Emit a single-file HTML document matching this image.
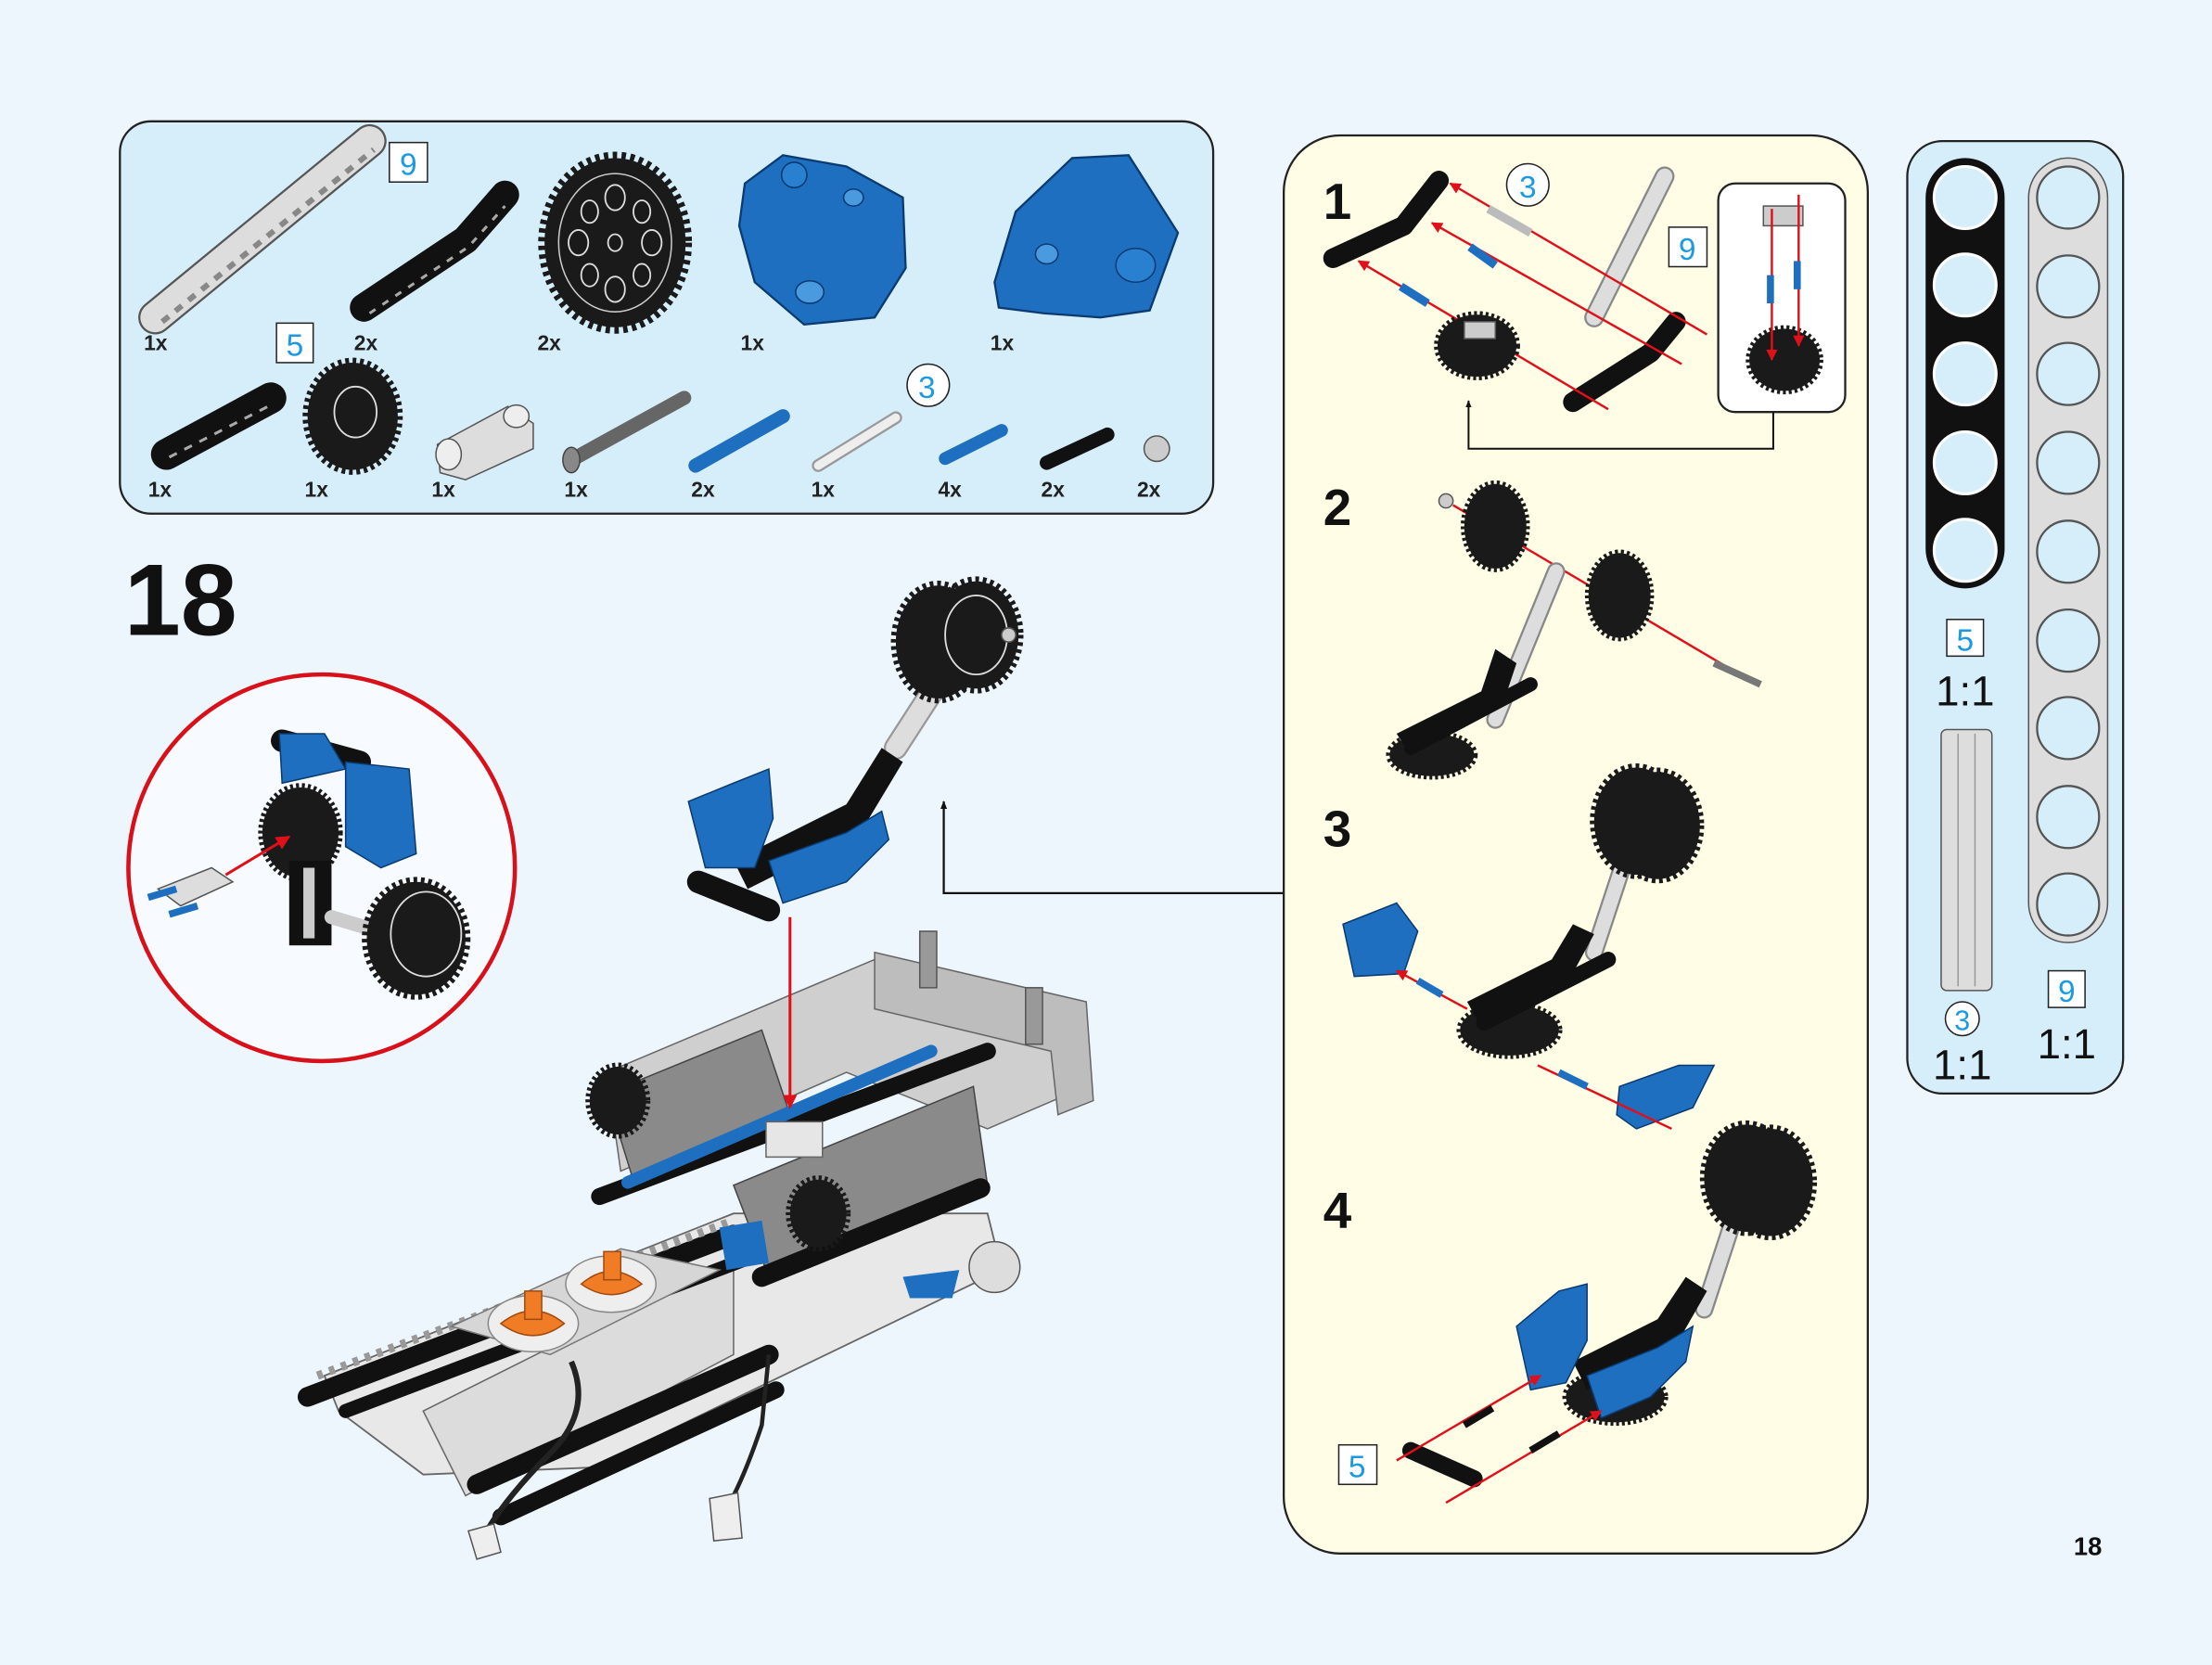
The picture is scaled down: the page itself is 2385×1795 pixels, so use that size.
<!DOCTYPE html>
<html><head><meta charset="utf-8">
<style>
html,body{margin:0;padding:0;background:#eef6fd;}
svg{display:block;}
text{font-family:"Liberation Sans",Arial,sans-serif;}
</style></head>
<body>
<svg width="2385" height="1795" viewBox="0 0 1568 1180" preserveAspectRatio="none" xmlns="http://www.w3.org/2000/svg">
<defs>
<marker id="ra" viewBox="0 0 10 10" refX="9" refY="5" markerWidth="5" markerHeight="5" orient="auto"><path d="M0,0 L10,5 L0,10 z" fill="#e0101a"/></marker>
<marker id="ka" viewBox="0 0 10 10" refX="9" refY="5" markerWidth="4" markerHeight="6" orient="auto"><path d="M0,1 L10,5 L0,9 z" fill="#111"/></marker>
</defs>
<rect width="1568" height="1180" fill="#eef6fd"/>

<!-- PARTS BOX -->
<rect x="85" y="86" width="775" height="278" rx="22" fill="#d6eefa" stroke="#222" stroke-width="1.5"/>
<!-- grey beam 9 -->
<line x1="110" y1="225" x2="262" y2="100" stroke="#555" stroke-width="24" stroke-linecap="round"/>
<line x1="110" y1="225" x2="262" y2="100" stroke="#ddd" stroke-width="21" stroke-linecap="round"/>
<line x1="115" y1="228" x2="265" y2="106" stroke="#888" stroke-width="4" stroke-dasharray="6 6"/>
<rect x="276" y="101" width="27" height="28" fill="#fff" stroke="#222"/><text x="289.5" y="124" font-size="22" fill="#1a9ae0" text-anchor="middle">9</text>
<!-- bent black beam -->
<path d="M258,218 L330,170 L358,138" fill="none" stroke="#111" stroke-width="20" stroke-linecap="round" stroke-linejoin="round"/>
<path d="M262,222 L332,175 L358,146" fill="none" stroke="#aaa" stroke-width="2" stroke-dasharray="5 6"/>
<!-- big gear -->
<ellipse cx="436" cy="172" rx="50" ry="60" fill="#1a1a1a" stroke="#1a1a1a" stroke-width="9" stroke-dasharray="3 3"/>
<ellipse cx="436" cy="172" rx="40" ry="49" fill="none" stroke="#ccc" stroke-width="1"/>
<g fill="none" stroke="#ddd" stroke-width="1.2"><ellipse cx="436" cy="140" rx="7" ry="9"/><ellipse cx="436" cy="205" rx="7" ry="9"/><ellipse cx="410" cy="172" rx="7" ry="9"/><ellipse cx="462" cy="172" rx="7" ry="9"/><ellipse cx="418" cy="150" rx="6" ry="8"/><ellipse cx="455" cy="150" rx="6" ry="8"/><ellipse cx="418" cy="195" rx="6" ry="8"/><ellipse cx="455" cy="195" rx="6" ry="8"/><ellipse cx="436" cy="172" rx="5" ry="6"/></g>
<!-- blue parts -->
<path d="M528,130 L555,110 L600,118 L640,140 L642,190 L620,225 L570,230 L535,200 L524,160 z" fill="#1f6fc0" stroke="#0a3a70" stroke-width="1.5"/>
<circle cx="563" cy="124" r="9" fill="#2a80d0" stroke="#0a3a70"/><ellipse cx="574" cy="207" rx="10" ry="8" fill="#4a9ae0" stroke="#0a3a70"/><ellipse cx="605" cy="140" rx="7" ry="6" fill="#4a9ae0" stroke="#0a3a70"/>
<path d="M705,200 L720,150 L760,112 L800,110 L835,165 L815,220 L780,225 L740,222 L708,218 z" fill="#1f6fc0" stroke="#0a3a70" stroke-width="1.5"/>
<ellipse cx="805" cy="188" rx="14" ry="12" fill="#2a80d0" stroke="#0a3a70"/><ellipse cx="742" cy="180" rx="8" ry="7" fill="#4a9ae0" stroke="#0a3a70"/>
<g font-size="15" font-weight="bold" fill="#222">
<text x="102" y="248">1x</text><text x="251" y="248">2x</text><text x="381" y="248">2x</text><text x="525" y="248">1x</text><text x="702" y="248">1x</text>
<text x="105" y="352">1x</text><text x="216" y="352">1x</text><text x="306" y="352">1x</text><text x="400" y="352">1x</text><text x="490" y="352">2x</text><text x="575" y="352">1x</text><text x="665" y="352">4x</text><text x="738" y="352">2x</text><text x="806" y="352">2x</text>
</g>
<rect x="196" y="229" width="26" height="28" fill="#fff" stroke="#222"/><text x="209" y="252" font-size="22" fill="#1a9ae0" text-anchor="middle">5</text>
<!-- row 2 parts -->
<line x1="118" y1="322" x2="192" y2="282" stroke="#111" stroke-width="22" stroke-linecap="round"/>
<line x1="120" y1="324" x2="194" y2="286" stroke="#aaa" stroke-width="2" stroke-dasharray="6 6"/>
<ellipse cx="250" cy="295" rx="32" ry="38" fill="#1a1a1a" stroke="#1a1a1a" stroke-width="7" stroke-dasharray="2.5 2.5"/>
<ellipse cx="252" cy="292" rx="15" ry="18" fill="none" stroke="#ddd" stroke-width="1.2"/>
<path d="M310,315 L360,288 L378,300 L378,318 L330,340 L312,335 z" fill="#ddd" stroke="#555"/>
<ellipse cx="318" cy="322" rx="9" ry="11" fill="#eee" stroke="#555"/><ellipse cx="366" cy="295" rx="9" ry="8" fill="#eee" stroke="#555"/>
<line x1="405" y1="326" x2="485" y2="282" stroke="#666" stroke-width="10" stroke-linecap="round"/><ellipse cx="405" cy="326" rx="6" ry="9" fill="#888" stroke="#444"/>
<line x1="493" y1="330" x2="555" y2="295" stroke="#1f6fc0" stroke-width="10" stroke-linecap="round"/>
<rect x="643" y="258" width="30" height="30" rx="15" fill="#fff" stroke="#222"/><text x="657" y="282" font-size="22" fill="#1a9ae0" text-anchor="middle">3</text>
<line x1="580" y1="330" x2="635" y2="296" stroke="#999" stroke-width="9" stroke-linecap="round"/><line x1="580" y1="330" x2="635" y2="296" stroke="#eee" stroke-width="6" stroke-linecap="round"/>
<line x1="670" y1="325" x2="710" y2="305" stroke="#1f6fc0" stroke-width="9" stroke-linecap="round"/>
<line x1="742" y1="328" x2="785" y2="308" stroke="#111" stroke-width="10" stroke-linecap="round"/>
<circle cx="820" cy="318" r="9" fill="#ccc" stroke="#555"/>

<!-- 18 title -->
<text x="88" y="450" font-size="72" font-weight="bold" fill="#111">18</text>

<!-- red circle callout -->
<circle cx="228" cy="615" r="137" fill="#f7fbff" stroke="#d8101a" stroke-width="3"/>
<line x1="200" y1="525" x2="255" y2="540" stroke="#111" stroke-width="16" stroke-linecap="round"/>
<path d="M245,540 L290,545 L295,605 L270,615 L245,600 z" fill="#1f6fc0" stroke="#0a3a70"/>
<path d="M198,520 L230,520 L245,545 L200,555 z" fill="#1f6fc0" stroke="#0a3a70"/>
<ellipse cx="213" cy="590" rx="27" ry="32" fill="#1a1a1a" stroke="#1a1a1a" stroke-width="6" stroke-dasharray="2 2"/>
<rect x="205" y="610" width="30" height="60" fill="#111"/><rect x="215" y="615" width="8" height="50" fill="#ccc"/>
<line x1="235" y1="650" x2="285" y2="665" stroke="#ccc" stroke-width="10" stroke-linecap="round"/>
<ellipse cx="295" cy="665" rx="35" ry="40" fill="#1a1a1a" stroke="#1a1a1a" stroke-width="7" stroke-dasharray="2.5 2.5"/>
<ellipse cx="302" cy="662" rx="25" ry="30" fill="none" stroke="#ddd" stroke-width="1.2"/>
<path d="M112,630 L150,615 L165,625 L128,642 z" fill="#ddd" stroke="#555"/>
<line x1="105" y1="636" x2="125" y2="630" stroke="#1f6fc0" stroke-width="5"/><line x1="120" y1="648" x2="140" y2="642" stroke="#1f6fc0" stroke-width="5"/>
<line x1="160" y1="620" x2="205" y2="593" stroke="#e0101a" stroke-width="2" marker-end="url(#ra)"/>

<!-- MAIN MODEL -->
<!-- base white panel -->
<path d="M230,975 L520,860 L700,860 L710,900 L420,1040 L300,1045 L240,1000 z" fill="#e8e8e8" stroke="#666" stroke-width="1.2"/>
<path d="M300,1000 L520,890 L520,960 L330,1060 z" fill="#dcdcdc" stroke="#666"/>
<!-- lower black beams -->
<line x1="218" y1="990" x2="520" y2="875" stroke="#111" stroke-width="14" stroke-linecap="round"/>
<line x1="245" y1="1000" x2="540" y2="888" stroke="#111" stroke-width="10" stroke-linecap="round"/>
<line x1="338" y1="1052" x2="545" y2="960" stroke="#111" stroke-width="14" stroke-linecap="round"/>
<line x1="355" y1="1075" x2="550" y2="985" stroke="#111" stroke-width="12" stroke-linecap="round"/>
<line x1="225" y1="975" x2="520" y2="865" stroke="#999" stroke-width="6" stroke-dasharray="4 5"/>
<!-- motor plates -->
<path d="M320,940 L440,885 L510,900 L390,960 z" fill="#d6d6d6" stroke="#777"/>
<ellipse cx="378" cy="938" rx="32" ry="20" fill="#eee" stroke="#888"/><ellipse cx="433" cy="910" rx="32" ry="20" fill="#eee" stroke="#888"/>
<path d="M355,938 Q378,920 400,938 Q378,955 355,938 z" fill="#f07d25" stroke="#a04a10"/><rect x="372" y="915" width="12" height="20" fill="#f07d25" stroke="#a04a10"/>
<path d="M412,910 Q433,892 455,910 Q433,925 412,910 z" fill="#f07d25" stroke="#a04a10"/><rect x="428" y="887" width="12" height="20" fill="#f07d25" stroke="#a04a10"/>
<!-- cables -->
<path d="M405,965 Q420,1000 390,1030 Q360,1060 345,1085" fill="none" stroke="#222" stroke-width="4"/>
<path d="M332,1085 L350,1080 L355,1100 L338,1105 z" fill="#eee" stroke="#555"/>
<path d="M545,960 L540,1010 Q530,1040 520,1060" fill="none" stroke="#222" stroke-width="3"/>
<path d="M503,1062 L523,1058 L526,1090 L506,1092 z" fill="#eee" stroke="#555"/>
<!-- upper grey frame -->
<path d="M430,760 L620,680 L760,720 L770,770 L700,800 L600,760 L440,830 z" fill="#cfcfcf" stroke="#666"/>
<path d="M620,675 L770,710 L775,780 L750,790 L745,745 L620,715 z" fill="#bdbdbd" stroke="#666"/>
<rect x="652" y="660" width="12" height="40" fill="#999" stroke="#555"/><rect x="727" y="700" width="12" height="40" fill="#999" stroke="#555"/>
<path d="M430,775 L540,730 L560,790 L450,840 z" fill="#8a8a8a" stroke="#444"/>
<path d="M520,840 L690,770 L700,840 L545,905 z" fill="#8a8a8a" stroke="#444"/>
<line x1="425" y1="848" x2="700" y2="745" stroke="#111" stroke-width="12" stroke-linecap="round"/>
<line x1="540" y1="905" x2="695" y2="842" stroke="#111" stroke-width="14" stroke-linecap="round"/>
<line x1="445" y1="838" x2="660" y2="745" stroke="#1f6fc0" stroke-width="9" stroke-linecap="round"/>
<rect x="543" y="795" width="40" height="25" fill="#e6e6e6" stroke="#666"/>
<ellipse cx="438" cy="780" rx="20" ry="24" fill="#1a1a1a" stroke="#1a1a1a" stroke-width="6" stroke-dasharray="2 2"/>
<ellipse cx="580" cy="860" rx="20" ry="24" fill="#1a1a1a" stroke="#1a1a1a" stroke-width="6" stroke-dasharray="2 2"/>
<path d="M510,870 L540,865 L545,895 L515,900 z" fill="#1f6fc0"/>
<path d="M640,905 L680,900 L675,920 L645,920 z" fill="#1f6fc0"/>
<circle cx="705" cy="898" r="18" fill="#ddd" stroke="#555"/>
<!-- upper assembly -->
<line x1="635" y1="530" x2="690" y2="445" stroke="#999" stroke-width="17" stroke-linecap="round"/><line x1="635" y1="530" x2="690" y2="445" stroke="#ddd" stroke-width="14" stroke-linecap="round"/>
<ellipse cx="665" cy="455" rx="30" ry="40" fill="#1a1a1a" stroke="#1a1a1a" stroke-width="7" stroke-dasharray="2.5 2.5"/>
<ellipse cx="692" cy="450" rx="30" ry="38" fill="#1a1a1a" stroke="#1a1a1a" stroke-width="7" stroke-dasharray="2.5 2.5"/>
<ellipse cx="692" cy="450" rx="22" ry="28" fill="none" stroke="#ddd" stroke-width="1.2"/>
<circle cx="715" cy="450" r="5" fill="#ccc" stroke="#555"/>
<path d="M520,610 L600,570 L625,530 L640,540 L610,590 L530,630 z" fill="#111"/>
<line x1="495" y1="625" x2="545" y2="645" stroke="#111" stroke-width="16" stroke-linecap="round"/>
<path d="M488,568 L520,555 L545,545 L548,580 L535,615 L500,615 z" fill="#1f6fc0" stroke="#0a3a70"/>
<path d="M545,610 L600,590 L625,575 L630,595 L600,625 L555,640 z" fill="#1f6fc0" stroke="#0a3a70"/>
<line x1="560" y1="650" x2="560" y2="785" stroke="#e0101a" stroke-width="2" marker-end="url(#ra)"/>

<!-- connector from steps -->
<polyline points="910,633 669,633 669,568" fill="none" stroke="#111" stroke-width="1.5" marker-end="url(#ka)"/>

<!-- STEP PANEL -->
<rect x="910" y="96" width="414" height="1005" rx="40" fill="#fffde6" stroke="#222" stroke-width="1.5"/>
<g font-size="36" font-weight="bold" fill="#111"><text x="938" y="155">1</text><text x="938" y="372">2</text><text x="938" y="600">3</text><text x="938" y="870">4</text></g>
<!-- step 1 -->
<path d="M945,183 L995,160 L1020,128" fill="none" stroke="#111" stroke-width="14" stroke-linecap="round" stroke-linejoin="round"/>
<path d="M1115,285 L1170,250 L1188,228" fill="none" stroke="#111" stroke-width="14" stroke-linecap="round" stroke-linejoin="round"/>
<line x1="1130" y1="225" x2="1180" y2="125" stroke="#888" stroke-width="14" stroke-linecap="round"/><line x1="1130" y1="225" x2="1180" y2="125" stroke="#ddd" stroke-width="11" stroke-linecap="round"/>
<g stroke="#e0101a" stroke-width="1.6" fill="none">
<line x1="1140" y1="290" x2="963" y2="185" marker-end="url(#ra)"/>
<line x1="1192" y1="258" x2="1015" y2="158" marker-end="url(#ra)"/>
<line x1="1210" y1="237" x2="1028" y2="130" marker-end="url(#ra)"/>
</g>
<line x1="1055" y1="148" x2="1085" y2="165" stroke="#bbb" stroke-width="6"/>
<line x1="1042" y1="175" x2="1060" y2="188" stroke="#1f6fc0" stroke-width="6"/>
<line x1="993" y1="203" x2="1012" y2="215" stroke="#1f6fc0" stroke-width="6"/>
<ellipse cx="1047" cy="245" rx="28" ry="22" fill="#1a1a1a" stroke="#1a1a1a" stroke-width="5" stroke-dasharray="2 2"/>
<rect x="1038" y="228" width="22" height="12" fill="#ccc" stroke="#555"/>
<rect x="1068" y="116" width="30" height="30" rx="15" fill="#fff" stroke="#222"/><text x="1083" y="140" font-size="22" fill="#1a9ae0" text-anchor="middle">3</text>
<rect x="1183" y="161" width="27" height="28" fill="#fff" stroke="#222"/><text x="1196" y="184" font-size="22" fill="#1a9ae0" text-anchor="middle">9</text>
<rect x="1218" y="130" width="90" height="162" rx="12" fill="#fff" stroke="#222" stroke-width="1.5"/>
<ellipse cx="1265" cy="255" rx="25" ry="22" fill="#1a1a1a" stroke="#1a1a1a" stroke-width="5" stroke-dasharray="2 2"/>
<rect x="1250" y="146" width="28" height="14" fill="#ccc" stroke="#555"/>
<g stroke="#e0101a" stroke-width="1.6"><line x1="1256" y1="148" x2="1256" y2="255" marker-end="url(#ra)"/><line x1="1275" y1="138" x2="1275" y2="245" marker-end="url(#ra)"/></g>
<line x1="1255" y1="195" x2="1255" y2="215" stroke="#1f6fc0" stroke-width="5"/><line x1="1274" y1="185" x2="1274" y2="205" stroke="#1f6fc0" stroke-width="5"/>
<polyline points="1257,292 1257,318 1041,318 1041,284" fill="none" stroke="#111" stroke-width="1.3" marker-end="url(#ka)"/>
<!-- step 2 -->
<line x1="1030" y1="358" x2="1245" y2="485" stroke="#e0101a" stroke-width="1.6"/>
<circle cx="1025" cy="355" r="5" fill="#ccc" stroke="#555"/>
<ellipse cx="1060" cy="373" rx="22" ry="30" fill="#1a1a1a" stroke="#1a1a1a" stroke-width="5" stroke-dasharray="2 2"/>
<ellipse cx="1148" cy="422" rx="22" ry="30" fill="#1a1a1a" stroke="#1a1a1a" stroke-width="5" stroke-dasharray="2 2"/>
<line x1="1215" y1="470" x2="1248" y2="485" stroke="#777" stroke-width="5"/>
<line x1="1060" y1="510" x2="1103" y2="405" stroke="#888" stroke-width="13" stroke-linecap="round"/><line x1="1060" y1="510" x2="1103" y2="405" stroke="#ddd" stroke-width="10" stroke-linecap="round"/>
<ellipse cx="1015" cy="535" rx="30" ry="15" fill="#1a1a1a" stroke="#1a1a1a" stroke-width="5" stroke-dasharray="2 2"/>
<path d="M990,520 L1050,490 L1060,460 L1075,470 L1065,500 L1000,535 z" fill="#111"/>
<line x1="1000" y1="530" x2="1085" y2="485" stroke="#111" stroke-width="10" stroke-linecap="round"/>
<!-- step 3 -->
<line x1="1130" y1="675" x2="1163" y2="575" stroke="#888" stroke-width="13" stroke-linecap="round"/><line x1="1130" y1="675" x2="1163" y2="575" stroke="#ddd" stroke-width="10" stroke-linecap="round"/>
<ellipse cx="1160" cy="582" rx="30" ry="38" fill="#1a1a1a" stroke="#1a1a1a" stroke-width="6" stroke-dasharray="2.5 2.5"/>
<ellipse cx="1175" cy="585" rx="30" ry="38" fill="#1a1a1a" stroke="#1a1a1a" stroke-width="6" stroke-dasharray="2.5 2.5"/>
<ellipse cx="1070" cy="730" rx="35" ry="18" fill="#1a1a1a" stroke="#1a1a1a" stroke-width="5" stroke-dasharray="2 2"/>
<path d="M1040,710 L1100,680 L1115,655 L1130,662 L1112,695 L1050,728 z" fill="#111"/>
<line x1="1052" y1="725" x2="1140" y2="680" stroke="#111" stroke-width="11" stroke-linecap="round"/>
<path d="M952,655 L990,640 L1005,660 L995,690 L960,692 z" fill="#1f6fc0" stroke="#0a3a70"/>
<path d="M1148,770 L1190,755 L1215,755 L1200,785 L1160,800 L1146,790 z" fill="#1f6fc0" stroke="#0a3a70"/>
<g stroke="#e0101a" stroke-width="1.6"><line x1="1040" y1="715" x2="990" y2="688" marker-end="url(#ra)"/><line x1="1090" y1="755" x2="1185" y2="800"/></g>
<line x1="1005" y1="695" x2="1022" y2="705" stroke="#1f6fc0" stroke-width="5"/><line x1="1105" y1="760" x2="1125" y2="770" stroke="#1f6fc0" stroke-width="5"/>
<!-- step 4 -->
<line x1="1208" y1="928" x2="1240" y2="830" stroke="#888" stroke-width="13" stroke-linecap="round"/><line x1="1208" y1="928" x2="1240" y2="830" stroke="#ddd" stroke-width="10" stroke-linecap="round"/>
<ellipse cx="1238" cy="835" rx="30" ry="38" fill="#1a1a1a" stroke="#1a1a1a" stroke-width="6" stroke-dasharray="2.5 2.5"/>
<ellipse cx="1255" cy="838" rx="30" ry="38" fill="#1a1a1a" stroke="#1a1a1a" stroke-width="6" stroke-dasharray="2.5 2.5"/>
<ellipse cx="1145" cy="990" rx="35" ry="18" fill="#1a1a1a" stroke="#1a1a1a" stroke-width="5" stroke-dasharray="2 2"/>
<path d="M1115,965 L1175,935 L1195,905 L1210,915 L1190,950 L1125,985 z" fill="#111"/>
<path d="M1075,940 L1105,915 L1125,910 L1125,950 L1110,980 L1085,985 z" fill="#1f6fc0" stroke="#0a3a70"/>
<path d="M1125,975 L1175,955 L1200,940 L1195,965 L1170,990 L1135,1005 z" fill="#1f6fc0" stroke="#0a3a70"/>
<line x1="1000" y1="1028" x2="1045" y2="1048" stroke="#111" stroke-width="12" stroke-linecap="round"/>
<g stroke="#e0101a" stroke-width="1.6"><line x1="990" y1="1035" x2="1092" y2="975" marker-end="url(#ra)"/><line x1="1025" y1="1065" x2="1135" y2="1000" marker-end="url(#ra)"/></g>
<line x1="1038" y1="1010" x2="1058" y2="998" stroke="#111" stroke-width="5"/><line x1="1085" y1="1028" x2="1105" y2="1016" stroke="#111" stroke-width="5"/>
<rect x="949" y="1024" width="27" height="28" fill="#fff" stroke="#222"/><text x="962" y="1047" font-size="22" fill="#1a9ae0" text-anchor="middle">5</text>

<!-- SCALE PANEL -->
<rect x="1352" y="100" width="153" height="675" rx="25" fill="#d6eefa" stroke="#222" stroke-width="1.5"/>
<rect x="1365" y="112" width="56" height="305" rx="28" fill="#111"/>
<g fill="#d6eefa" stroke="#fff" stroke-width="2"><circle cx="1393" cy="140" r="22"/><circle cx="1393" cy="202" r="22"/><circle cx="1393" cy="265" r="22"/><circle cx="1393" cy="328" r="22"/><circle cx="1393" cy="390" r="22"/></g>
<rect x="1438" y="112" width="56" height="556" rx="28" fill="#ddd" stroke="#555"/>
<g fill="#d6eefa" stroke="#555" stroke-width="1.5"><circle cx="1466" cy="140" r="22"/><circle cx="1466" cy="203" r="22"/><circle cx="1466" cy="265" r="22"/><circle cx="1466" cy="328" r="22"/><circle cx="1466" cy="391" r="22"/><circle cx="1466" cy="454" r="22"/><circle cx="1466" cy="516" r="22"/><circle cx="1466" cy="579" r="22"/><circle cx="1466" cy="641" r="22"/></g>
<rect x="1380" y="439" width="26" height="26" fill="#fff" stroke="#222"/><text x="1393" y="461" font-size="22" fill="#1a9ae0" text-anchor="middle">5</text>
<text x="1393" y="500" font-size="30" fill="#111" text-anchor="middle">1:1</text>
<rect x="1376" y="517" width="36" height="185" rx="4" fill="#ddd" stroke="#555"/>
<line x1="1388" y1="520" x2="1388" y2="699" stroke="#999"/><line x1="1400" y1="520" x2="1400" y2="699" stroke="#999"/>
<circle cx="1391" cy="722" r="12" fill="#fff" stroke="#222"/><text x="1391" y="730" font-size="20" fill="#1a9ae0" text-anchor="middle">3</text>
<text x="1391" y="765" font-size="30" fill="#111" text-anchor="middle">1:1</text>
<rect x="1452" y="688" width="26" height="26" fill="#fff" stroke="#222"/><text x="1465" y="710" font-size="22" fill="#1a9ae0" text-anchor="middle">9</text>
<text x="1465" y="750" font-size="30" fill="#111" text-anchor="middle">1:1</text>

<text x="1470" y="1102" font-size="18" font-weight="bold" fill="#111">18</text>
</svg>
</body></html>
